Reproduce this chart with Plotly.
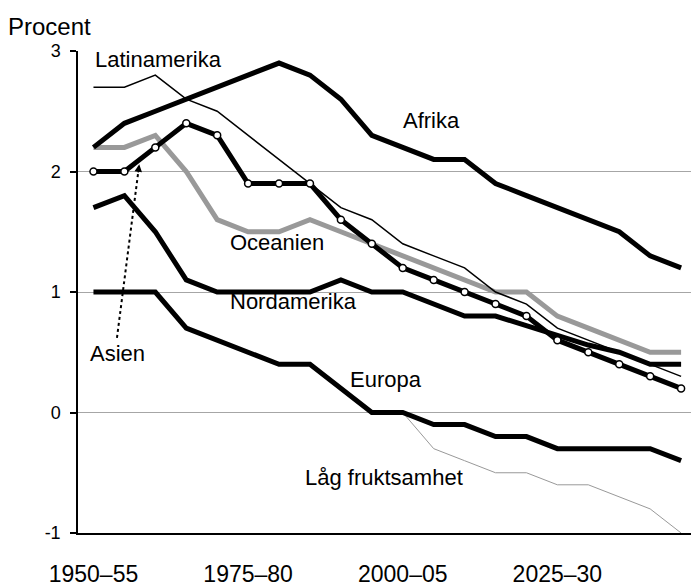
import plotly.graph_objects as go

periods = ["1950–55", "1955–60", "1960–65", "1965–70", "1970–75", "1975–80",
           "1980–85", "1985–90", "1990–95", "1995–2000", "2000–05", "2005–10",
           "2010–15", "2015–20", "2020–25", "2025–30", "2030–35", "2035–40",
           "2040–45", "2045–50"]
x_idx = list(range(len(periods)))

afrika = [2.2, 2.4, 2.5, 2.6, 2.7, 2.8, 2.9, 2.8, 2.6, 2.3, 2.2, 2.1, 2.1, 1.9, 1.8, 1.7, 1.6, 1.5, 1.3, 1.2]
latinamerika = [2.7, 2.7, 2.8, 2.6, 2.5, 2.3, 2.1, 1.9, 1.7, 1.6, 1.4, 1.3, 1.2, 1.0, 0.9, 0.7, 0.6, 0.5, 0.4, 0.3]
asien = [2.0, 2.0, 2.2, 2.4, 2.3, 1.9, 1.9, 1.9, 1.6, 1.4, 1.2, 1.1, 1.0, 0.9, 0.8, 0.6, 0.5, 0.4, 0.3, 0.2]
oceanien = [2.2, 2.2, 2.3, 2.0, 1.6, 1.5, 1.5, 1.6, 1.5, 1.4, 1.3, 1.2, 1.1, 1.0, 1.0, 0.8, 0.7, 0.6, 0.5, 0.5]
nordamerika = [1.7, 1.8, 1.5, 1.1, 1.0, 1.0, 1.0, 1.0, 1.1, 1.0, 1.0, 0.9, 0.8, 0.8, 0.72, 0.64, 0.56, 0.5, 0.4, 0.4]
europa = [1.0, 1.0, 1.0, 0.7, 0.6, 0.5, 0.4, 0.4, 0.2, 0.0, 0.0, -0.1, -0.1, -0.2, -0.2, -0.3, -0.3, -0.3, -0.3, -0.4]
lag_x = list(range(10, 20))
lag_fruktsamhet = [0.0, -0.3, -0.4, -0.5, -0.5, -0.6, -0.6, -0.7, -0.8, -1.0]

tick_pos = [0, 5, 10, 15]
tick_text = ["1950–55", "1975–80", "2000–05", "2025–30"]
y_ticks = [-1, 0, 1, 2, 3]
y_tick_text = ["-1", "0", "1", "2", "3"]

FONT = "Liberation Sans, Arial, sans-serif"
XR = [-0.5, 19.32]

fig = go.Figure()

def line(xv, yv, color, width, name, markers=False):
    fig.add_trace(go.Scatter(
        x=xv, y=yv, name=name, mode="lines+markers" if markers else "lines",
        line=dict(color=color, width=width),
        marker=dict(size=7, color="white", line=dict(color="black", width=1.5)) if markers else None,
        showlegend=False, hoverinfo="skip"))

line(lag_x, lag_fruktsamhet, "#999999", 1, "Låg fruktsamhet")
line(x_idx, europa, "black", 5, "Europa")
line(x_idx, nordamerika, "black", 5, "Nordamerika")
line(x_idx, oceanien, "#999999", 5, "Oceanien")
line(x_idx, afrika, "black", 5, "Afrika")
line(x_idx, latinamerika, "black", 1.5, "Latinamerika")
line(x_idx, asien, "black", 5, "Asien", markers=True)

labels = [
    ("Latinamerika", 0.11, 2.93),
    ("Afrika", 10.07, 2.42),
    ("Oceanien", 4.48, 1.41),
    ("Nordamerika", 4.48, 0.92),
    ("Europa", 8.36, 0.27),
    ("Asien", -0.05, 0.49),
    ("Låg fruktsamhet", 6.9, -0.54),
]
for txt, lx, ly in labels:
    fig.add_annotation(x=lx, y=ly, xref="x", yref="y", text=txt, showarrow=False,
                       xanchor="left", yanchor="middle", xshift=-4,
                       font=dict(family=FONT, size=22, color="black"))

# dotted pointer from "Asien" label to the Asia line
fig.add_shape(type="line", xref="x", yref="y", x0=0.76, y0=0.62, x1=1.45, y1=2.0,
              line=dict(color="black", width=2, dash="dot"))
fig.add_annotation(x=1.48, y=2.06, ax=1.44, ay=1.98, xref="x", yref="y",
                   axref="x", ayref="y", text="", showarrow=True,
                   arrowhead=2, arrowsize=1, arrowwidth=1.5, arrowcolor="black",
                   standoff=0, startstandoff=0)

fig.add_annotation(x=-0.118, y=1.05, xref="paper", yref="paper", text="Procent",
                   showarrow=False, xanchor="left", yanchor="middle",
                   font=dict(family=FONT, size=24, color="black"))

fig.update_layout(
    width=691, height=587,
    margin=dict(l=78, r=0, t=51, b=46),
    paper_bgcolor="white", plot_bgcolor="white",
    font=dict(family=FONT, color="black"),
    xaxis=dict(range=XR, tickvals=tick_pos, ticktext=tick_text, ticks="",
               showline=True, linecolor="black", linewidth=1.5, showgrid=False,
               zeroline=False, tickfont=dict(size=23), ticklabelstandoff=20),
    xaxis2=dict(range=XR, overlaying="x", anchor="y", side="bottom",
                tickvals=[-0.5, 4.5, 9.5, 14.5], ticks="outside", ticklen=7,
                tickcolor="black", tickwidth=1.5, showticklabels=False,
                showline=False, showgrid=False, zeroline=False),
    xaxis3=dict(range=XR, overlaying="x", anchor="y", side="top",
                showline=True, linecolor="#808080", linewidth=2.5, ticks="",
                showticklabels=False, showgrid=False, zeroline=False),
    yaxis=dict(range=[-1, 3], tickvals=y_ticks, ticktext=y_tick_text,
               ticks="outside", ticklen=6,
               tickcolor="black", tickwidth=1.5, showline=True, linecolor="black",
               linewidth=1.5, gridcolor="#a6a6a6", gridwidth=1, zeroline=False,
               tickfont=dict(size=18), ticklabelstandoff=6),
)

fig.write_html("out.html", config={"displayModeBar": False},
               post_script="document.body.style.margin='0';document.body.style.padding='0';document.body.style.overflow='hidden';")
